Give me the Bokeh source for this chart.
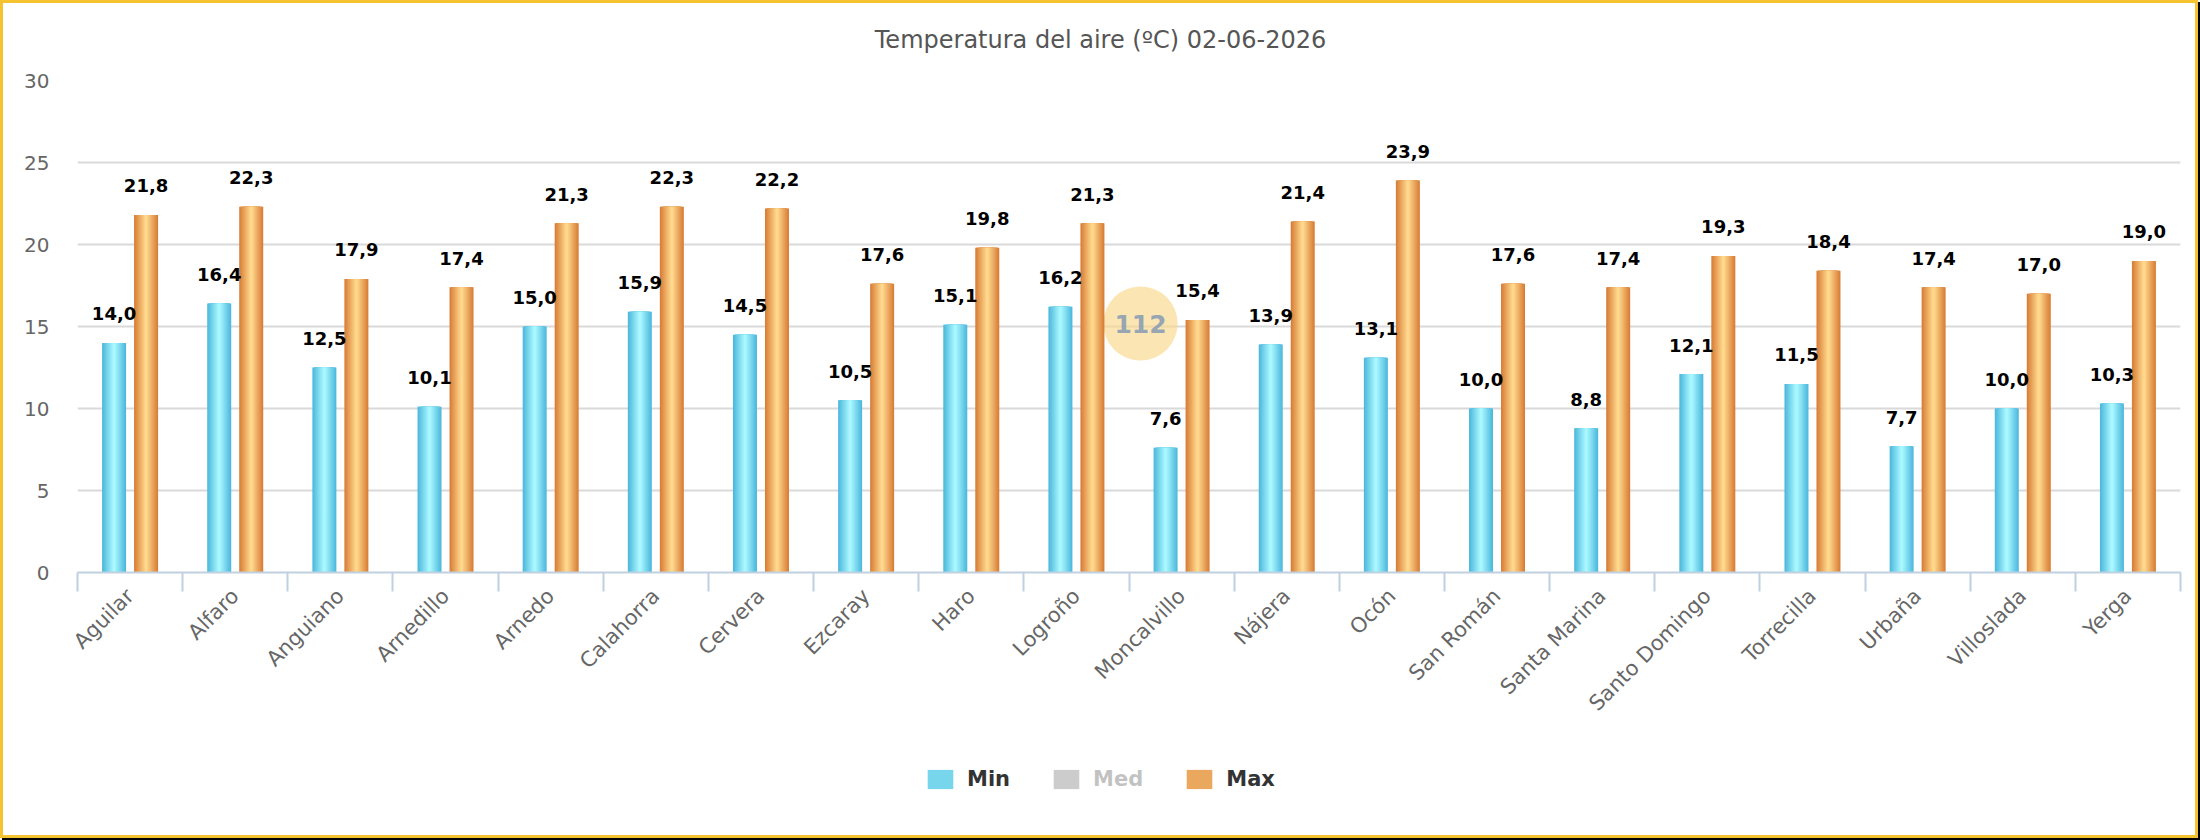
import math
from bokeh.plotting import figure
from bokeh.layouts import column
from bokeh.models import (ColumnDataSource, Range1d, FixedTicker, LinearAxis, Grid,
                          Legend, LegendItem, Label)
from bokeh.transform import dodge
from bokeh.core.properties import value
from bokeh.embed import file_html
from bokeh.resources import INLINE

# ---------------- data ----------------
stations = ["Aguilar", "Alfaro", "Anguiano", "Arnedillo", "Arnedo", "Calahorra", "Cervera",
            "Ezcaray", "Haro", "Logroño", "Moncalvillo", "Nájera", "Ocón", "San Román",
            "Santa Marina", "Santo Domingo", "Torrecilla", "Urbaña", "Villoslada", "Yerga"]
t_min = [14.0, 16.4, 12.5, 10.1, 15.0, 15.9, 14.5, 10.5, 15.1, 16.2,
         7.6, 13.9, 13.1, 10.0, 8.8, 12.1, 11.5, 7.7, 10.0, 10.3]
t_max = [21.8, 22.3, 17.9, 17.4, 21.3, 22.3, 22.2, 17.6, 19.8, 21.3,
         15.4, 21.4, 23.9, 17.6, 17.4, 19.3, 18.4, 17.4, 17.0, 19.0]
y_ticks = [0, 5, 10, 15, 20, 25, 30]
series_names = ["Min", "Med", "Max"]
title_text = "Temperatura del aire (ºC) 02-06-2026"

# ---------------- layout / style ----------------
W = 2192
H_TOP, H_MAIN, H_LEG = 60, 680, 92
BL, BR = 74, 15
BT = 77 - H_TOP
BB = H_MAIN - (569 - H_TOP)
n = len(stations)
UNIT_PX = (W - BL - BR) / n
BAR_PX = 24
OFF = 16 / UNIT_PX
N_LAYERS = 12

BLUE_EDGE, BLUE_MID = (0x4E, 0xB9, 0xDD), (0xAA, 0xF8, 0xFF)
ORANGE_EDGE, ORANGE_MID = (0xD9, 0x7E, 0x37), (0xFF, 0xD9, 0x8E)


def mix(a, b, t):
    return "#%02x%02x%02x" % tuple(int(round(a[i] + (b[i] - a[i]) * t)) for i in range(3))


def fmt(v):
    return ("%.1f" % v).replace(".", ",")


def strip(height):
    f = figure(width=W, height=height, output_backend="svg", toolbar_location=None,
               x_range=Range1d(0, 1), y_range=Range1d(100, 101),
               x_axis_location=None, y_axis_location=None,
               min_border_left=BL, min_border_right=BR, min_border_top=0, min_border_bottom=0)
    f.outline_line_color = None
    f.xgrid.visible = False
    f.ygrid.visible = False
    f.background_fill_color = "white"
    f.border_fill_color = "white"
    return f


src = ColumnDataSource(dict(
    x=list(range(n)),
    name=stations,
    tmin=t_min,
    tmax=t_max,
    lmin=[fmt(v) for v in t_min],
    lmax=[fmt(v) for v in t_max],
))

# ---------------- title strip ----------------
pt = strip(H_TOP)
pt.add_layout(Label(x=1097 - BL, y=H_TOP - 36, x_units="screen", y_units="screen",
                    text=title_text, text_align="center", text_baseline="middle",
                    text_font="DejaVu Sans", text_font_size="24px", text_color="#555555"))

# ---------------- main chart ----------------
p = figure(width=W, height=H_MAIN, output_backend="svg", toolbar_location=None,
           x_range=Range1d(-0.5, n - 0.5), y_range=Range1d(0, 30),
           x_axis_location=None, y_axis_location=None,
           min_border_left=BL, min_border_right=BR, min_border_top=BT, min_border_bottom=BB)
p.outline_line_color = None
p.background_fill_color = "white"
p.border_fill_color = "white"
p.xgrid.visible = False
p.ygrid.visible = False

# y axis
yaxis = LinearAxis(ticker=FixedTicker(ticks=y_ticks))
yaxis.axis_line_color = None
yaxis.major_tick_line_color = None
yaxis.minor_tick_line_color = None
yaxis.major_tick_out = 0
yaxis.major_tick_in = 0
yaxis.major_label_standoff = 28
yaxis.major_label_text_font = "DejaVu Sans"
yaxis.major_label_text_font_size = "20px"
yaxis.major_label_text_color = "#666666"
p.add_layout(yaxis, "left")

# x axis (labels at category centres, ticks at category boundaries)
xaxis = LinearAxis(ticker=FixedTicker(ticks=list(range(n)),
                                      minor_ticks=[i - 0.5 for i in range(n + 1)]),
                   major_label_overrides={i: s for i, s in enumerate(stations)})
xaxis.axis_line_color = "#C0D0E0"
xaxis.axis_line_width = 2
xaxis.major_tick_line_color = None
xaxis.major_tick_out = 0
xaxis.major_tick_in = 0
xaxis.minor_tick_line_color = "#C0D0E0"
xaxis.minor_tick_line_width = 2
xaxis.minor_tick_out = 19
xaxis.minor_tick_in = 0
xaxis.major_label_orientation = math.pi / 4
xaxis.major_label_standoff = 1
xaxis.major_label_text_font = "DejaVu Sans"
xaxis.major_label_text_font_size = "21px"
xaxis.major_label_text_color = "#666666"
p.add_layout(xaxis, "below")

grid = Grid(dimension=1, ticker=yaxis.ticker, grid_line_color="#D9D9D9", grid_line_width=2)
p.add_layout(grid)

# watermark (behind the bars)
wm = Label(x=1063, y=249, x_units="screen", y_units="screen", text="112",
           text_align="center", text_baseline="middle",
           text_font="DejaVu Sans", text_font_style="bold", text_font_size="25px",
           text_color="#8A9DB4", text_alpha=0.9,
           background_fill_color="#F9D98A", background_fill_alpha=0.65,
           padding=(11, 28), border_radius=38, level="underlay")
p.add_layout(wm)

# bars (horizontal gradient via nested bars)
for key, off, edge, mid in [("tmin", -OFF, BLUE_EDGE, BLUE_MID),
                            ("tmax", OFF, ORANGE_EDGE, ORANGE_MID)]:
    for k in range(N_LAYERS):
        w = BAR_PX * (1 - k / N_LAYERS) / UNIT_PX
        p.vbar(x=dodge("x", off, range=p.x_range), top=key, bottom=0, width=w,
               source=src, fill_color=mix(edge, mid, k / (N_LAYERS - 1)), line_color=None)

# data labels
for key, lkey, off in [("tmin", "lmin", -OFF), ("tmax", "lmax", OFF)]:
    p.text(x=dodge("x", off, range=p.x_range), y=key, text=lkey, source=src,
           text_align="center", text_baseline="middle", y_offset=-29,
           text_font=value("DejaVu Sans"), text_font_style="bold",
           text_font_size="18px", text_color="#000000")

# ---------------- legend strip ----------------
pl = strip(H_LEG)
leg_colors = {"Min": mix(BLUE_EDGE, BLUE_MID, 0.45), "Med": "#555555",
              "Max": mix(ORANGE_EDGE, ORANGE_MID, 0.45)}
leg_tops = {"Min": "tmin", "Med": 0, "Max": "tmax"}
leg_r = {}
for s in series_names:
    leg_r[s] = pl.vbar(x="x", top=leg_tops[s], bottom=0, width=0.1, source=src,
                       fill_color=leg_colors[s], line_color=None)
leg_r["Med"].visible = False

legend = Legend(items=[LegendItem(label=s, renderers=[leg_r[s]]) for s in series_names],
                orientation="horizontal", location=(921 - BL, 44),
                glyph_width=32, glyph_height=24, label_standoff=11, spacing=40,
                padding=0, margin=0, border_line_color=None, background_fill_alpha=0,
                label_text_font="DejaVu Sans", label_text_font_style="bold",
                label_text_font_size="21px", label_text_color="#333333",
                click_policy="hide", inactive_fill_color="white", inactive_fill_alpha=0.7)
pl.add_layout(legend, "center")

layout = column(pt, p, pl, spacing=0)
layout.styles = {"border": "3px solid #F5C330", "box-shadow": "2px 2px 0 0 #000000",
                 "background-color": "white"}

open("out.html", "w").write(file_html(layout, INLINE))
